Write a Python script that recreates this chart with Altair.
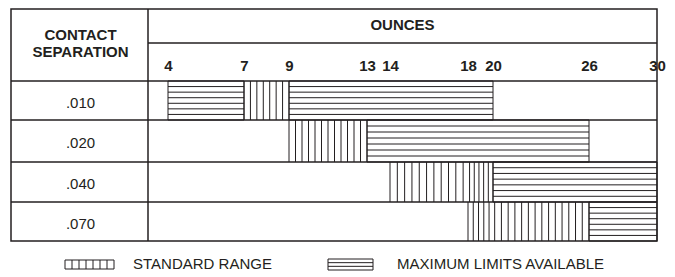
import altair as alt
import numpy as np
import pandas as pd

# ---------------- data ----------------
rows = [".010", ".020", ".040", ".070"]
tick_oz = [4, 7, 9, 13, 14, 18, 20, 26, 30]
seg_row = [".010", ".010", ".010", ".020", ".020", ".040", ".040", ".070", ".070"]
seg_start = [4, 7, 9, 9, 13, 14, 20, 18, 26]
seg_end = [7, 9, 20, 13, 26, 20, 30, 26, 30]
seg_kind = ["max", "std", "max", "std", "max", "std", "max", "std", "max"]
header_left = ["CONTACT", "SEPARATION"]
header_right = "OUNCES"
legend_labels = ["STANDARD RANGE", "MAXIMUM LIMITS AVAILABLE"]
legend_kind = ["std", "max"]

# ---------------- layout / style ----------------
W, H = 646, 232                 # whole table
DIV = 137                       # column divider
X_RANGE = [157, 233, 278, 356, 379, 457, 482, 578, 646]   # piecewise pixel range for tick_oz
Y_DOMAIN = [0, 1, 2, 3, 4, 5, 6]                          # 2 header rows + 4 data rows
Y_RANGE = [0, 34, 72, 111, 153, 193, 232]
INK = "#231f20"
FONT = "Liberation Sans"
V_STEP = 6.5      # px between vertical hatch lines
H_LINES = 7       # intervals of horizontal hatching per row
LINE_W = 1.3


def oz_px(v):
    return float(np.interp(v, tick_oz, X_RANGE))


lines = []
for r, s, e, k in zip(seg_row, seg_start, seg_end, seg_kind):
    top = rows.index(r) + 2
    if k == "std":
        n = max(1, round((oz_px(e) - oz_px(s)) / V_STEP))
        for j in range(n + 1):
            xv = s + (e - s) * j / n
            lines.append(dict(x=xv, x2=xv, y=top, y2=top + 1))
    else:
        for xv in (s, e):
            lines.append(dict(x=xv, x2=xv, y=top, y2=top + 1))
        for j in range(H_LINES + 1):
            yv = top + j / H_LINES
            lines.append(dict(x=s, x2=e, y=yv, y2=yv))
hatch = pd.DataFrame(lines)

xs = alt.Scale(domain=tick_oz, range=X_RANGE, nice=False, zero=False)
ys = alt.Scale(domain=Y_DOMAIN, range=Y_RANGE, nice=False, zero=False)

# ---------------- table grid ----------------
grid_df = pd.DataFrame({"yl": [2, 3, 4, 5]})
grid_full = alt.Chart(grid_df).mark_rule(color=INK, strokeWidth=LINE_W).encode(
    y=alt.Y("yl:Q", scale=ys, axis=None), x=alt.value(0), x2=alt.value(W)
)
grid_head = alt.Chart(pd.DataFrame({"yl": [1]})).mark_rule(color=INK, strokeWidth=LINE_W).encode(
    y=alt.Y("yl:Q", scale=ys, axis=None), x=alt.value(DIV), x2=alt.value(W)
)
divider = alt.Chart(pd.DataFrame({"yl": [0]})).mark_rule(color=INK, strokeWidth=1.5).encode(
    x=alt.value(DIV), y=alt.value(0), y2=alt.value(H)
)

# ---------------- bars (hatching) ----------------
bars = alt.Chart(hatch).mark_rule(color=INK, strokeWidth=1).encode(
    x=alt.X("x:Q", scale=xs,
            axis=alt.Axis(orient="top", values=tick_oz, offset=-Y_RANGE[2], domain=False,
                          ticks=False, grid=False, labelFont=FONT, labelFontWeight="bold",
                          labelFontSize=15, labelColor=INK, labelPadding=8, labelAngle=0,
                          labelOverlap=False, labelFlush=False, format="d", title=None)),
    x2="x2:Q",
    y=alt.Y("y:Q", scale=ys, axis=None),
    y2="y2:Q",
)

# ---------------- headers and row labels ----------------
ounces = alt.Chart(pd.DataFrame({"t": [header_right]})).mark_text(
    font=FONT, fontWeight="bold", fontSize=15, color=INK, baseline="middle", align="center"
).encode(text="t:N", x=alt.value((DIV + W) / 2), y=alt.value((Y_RANGE[0] + Y_RANGE[1]) / 2 - 1))

head_left = alt.Chart(pd.DataFrame({"t": ["\n".join(header_left)]})).mark_text(
    font=FONT, fontWeight="bold", fontSize=15, color=INK, baseline="middle", align="center",
    lineBreak="\n", lineHeight=17
).encode(text="t:N", x=alt.value(DIV / 2 + 1), y=alt.value(Y_RANGE[1] - 8.5))

row_df = pd.DataFrame({"row": rows, "i": list(range(len(rows)))})
row_text = alt.Chart(row_df).transform_calculate(yc="datum.i + 2.5").mark_text(
    font=FONT, fontSize=15, color=INK, baseline="middle", align="center", dy=2
).encode(
    text="row:N",
    x=alt.value(DIV / 2 + 1),
    y=alt.Y("yc:Q", scale=ys, axis=None),
)

# ---------------- legend (below the table) ----------------
LEG_Y = H + 19
SW = {"std": (54, 103, LEG_Y, LEG_Y + 9), "max": (317, 362, LEG_Y - 1, LEG_Y + 10)}
TEXT_X = {"std": 122, "max": 386}
leg_lines = []
for k in legend_kind:
    x0, x1, y0, y1 = SW[k]
    leg_lines.append(dict(x=x0, x2=x1, y=y0, y2=y0))
    leg_lines.append(dict(x=x0, x2=x1, y=y1, y2=y1))
    if k == "std":
        n = round((x1 - x0) / 7)
        for j in range(n + 1):
            xv = x0 + (x1 - x0) * j / n
            leg_lines.append(dict(x=xv, x2=xv, y=y0, y2=y1))
    else:
        leg_lines.append(dict(x=x0, x2=x0, y=y0, y2=y1))
        leg_lines.append(dict(x=x1, x2=x1, y=y0, y2=y1))
        for j in (1, 2):
            yv = y0 + (y1 - y0) * j / 3
            leg_lines.append(dict(x=x0, x2=x1, y=yv, y2=yv))
leg_df = pd.DataFrame(leg_lines)
leg_text_df = pd.DataFrame({"label": legend_labels, "tx": [TEXT_X[k] for k in legend_kind]})

leg_marks = alt.Chart(leg_df).mark_rule(color=INK, strokeWidth=1).encode(
    x=alt.X("x:Q", scale=None, axis=None), x2="x2:Q",
    y=alt.Y("y:Q", scale=None, axis=None), y2="y2:Q",
)
leg_text = alt.Chart(leg_text_df).mark_text(
    font=FONT, fontSize=15, color=INK, baseline="middle", align="left"
).encode(text="label:N", x=alt.X("tx:Q", scale=None, axis=None), y=alt.value(LEG_Y + 4))

chart = alt.layer(
    grid_full, grid_head, divider, bars, ounces, head_left, row_text, leg_marks, leg_text
).resolve_scale(x="independent", y="independent").properties(
    width=W, height=H, padding={"left": 2, "top": 0, "right": 0, "bottom": 0}
).configure_view(stroke=INK, strokeWidth=1.5)

chart.save("out.html", embed_options={"renderer": "svg", "actions": False})
